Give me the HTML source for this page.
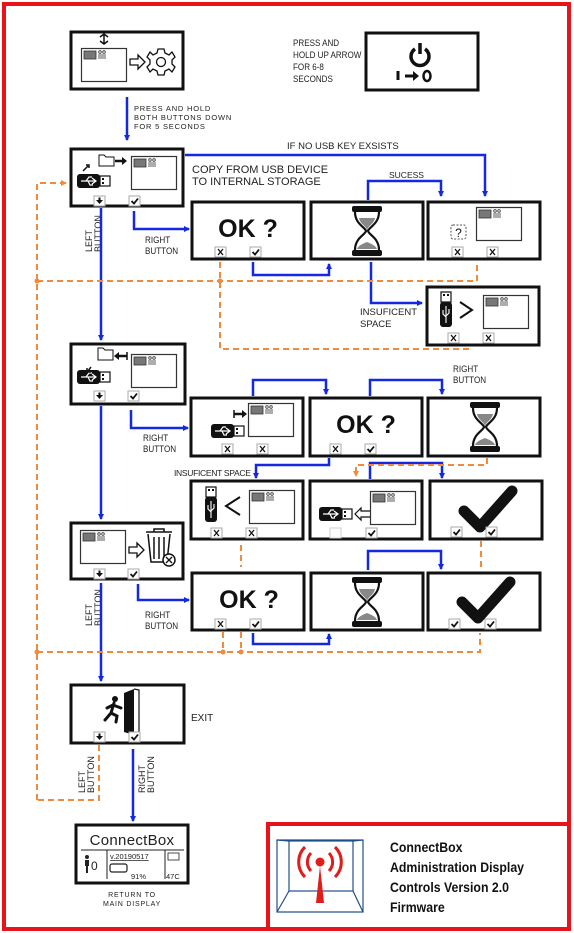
<!DOCTYPE html>
<html><head><meta charset="utf-8"><style>
html,body{margin:0;padding:0;background:#fff;}
svg{display:block;}
text{font-family:"Liberation Sans",sans-serif;}
</style></head><body>
<svg width="574" height="933" viewBox="0 0 574 933" xmlns="http://www.w3.org/2000/svg">
<defs>
<marker id="ab" markerWidth="6" markerHeight="6" refX="5" refY="3" orient="auto" markerUnits="userSpaceOnUse"><path d="M0,0 L6,3 L0,6 z" fill="#1428e0"/></marker>
<marker id="ao" markerWidth="6" markerHeight="6" refX="5" refY="3" orient="auto" markerUnits="userSpaceOnUse"><path d="M0,0 L6,3 L0,6 z" fill="#f08a3c"/></marker>
<symbol id="scr" viewBox="0 0 46 34" width="46" height="34" overflow="visible">
<rect x="0.5" y="0.5" width="45" height="33" fill="#fff" stroke="#333" stroke-width="1.2"/>
<rect x="3" y="3" width="12" height="8" fill="#777" stroke="#333" stroke-width="0.8"/>
<circle cx="19" cy="4" r="1.3" fill="none" stroke="#333" stroke-width="0.8"/><circle cx="23" cy="4" r="1.3" fill="none" stroke="#333" stroke-width="0.8"/>
<path d="M18,6 v5 M20,6 v5 M22,6 v5 M24,6 v5" stroke="#333" stroke-width="0.8"/>
</symbol>
<symbol id="usb" viewBox="0 0 34 14" width="34" height="14" overflow="visible">
<rect x="0" y="0" width="23" height="14" rx="3" fill="#111"/>
<path d="M4,7 H19 M15,4 L19,7 L15,10 M9,7 L12,3 H15 M11,7 L13,11 H16" stroke="#fff" stroke-width="1.2" fill="none"/>
<rect x="23" y="2" width="10" height="10" fill="#fff" stroke="#111" stroke-width="1.2"/>
<rect x="25" y="4" width="2" height="2" fill="#111"/><rect x="25" y="8" width="2" height="2" fill="#111"/>
</symbol>
<symbol id="usbv" viewBox="0 0 12 36" width="12" height="36" overflow="visible">
<rect x="1" y="0" width="10" height="10" fill="#fff" stroke="#111" stroke-width="1.2"/>
<rect x="3" y="2" width="2" height="2" fill="#111"/><rect x="7" y="2" width="2" height="2" fill="#111"/>
<rect x="0" y="10" width="12" height="25" rx="3" fill="#111"/>
<path d="M6,14 V31 M3,18 V22 L6,25 M9,17 V21 L6,24" stroke="#fff" stroke-width="1.1" fill="none"/>
</symbol>
<symbol id="hg" viewBox="0 0 30 50" width="30" height="50" overflow="visible">
<rect x="0" y="0" width="30" height="6" rx="2" fill="#111"/>
<rect x="0" y="44" width="30" height="6" rx="2" fill="#111"/>
<path d="M3,6 C3,18 13,21 14,25 C13,29 3,32 3,44 M27,6 C27,18 17,21 16,25 C17,29 27,32 27,44" stroke="#111" stroke-width="2.2" fill="none"/>
<path d="M7,12 H23 C22,18 16,20 15,24 C14,20 8,18 7,12 z" fill="#888"/>
<path d="M15,36 C10,38 6,40 5,43 H25 C24,40 20,38 15,36 z" fill="#888"/>
</symbol>
<symbol id="bck" viewBox="0 0 60 50" width="60" height="50" overflow="visible">
<path d="M6,26 L22,42 L54,6" stroke="#111" stroke-width="11" fill="none" stroke-linejoin="round" stroke-linecap="round"/>
</symbol>
<symbol id="cx" viewBox="0 0 11 10" width="11" height="10" overflow="visible">
<rect x="0" y="0" width="11" height="10" fill="#fff" stroke="#aaa" stroke-width="1"/>
<path d="M3,2 L8,8 M8,2 L3,8" stroke="#111" stroke-width="1.3"/>
</symbol>
<symbol id="cv" viewBox="0 0 11 10" width="11" height="10" overflow="visible">
<rect x="0" y="0" width="11" height="10" fill="#fff" stroke="#aaa" stroke-width="1"/>
<path d="M2.5,5 L5,7.5 L9,2.5" stroke="#111" stroke-width="1.8" fill="none"/>
</symbol>
<symbol id="cd" viewBox="0 0 11 10" width="11" height="10" overflow="visible">
<rect x="0" y="0" width="11" height="10" fill="#fff" stroke="#aaa" stroke-width="1"/>
<path d="M2,4 H9 L5.5,8 z M4.5,1.5 H6.5 V4.5 H4.5z" fill="#111"/>
</symbol>
<symbol id="ce" viewBox="0 0 11 10" width="11" height="10" overflow="visible">
<rect x="0" y="0" width="11" height="10" fill="#fff" stroke="#ccc" stroke-width="1"/>
</symbol>
</defs>

<!-- outer border -->
<rect x="4" y="4" width="565" height="925" fill="none" stroke="#e8141b" stroke-width="4"/>
<rect x="268" y="824" width="301" height="105" fill="none" stroke="#e8141b" stroke-width="4"/>

<g fill="#fff" stroke="#111" stroke-width="3">
<rect x="71" y="32" width="112" height="57"/>
<rect x="366" y="33" width="112" height="57"/>
<rect x="71" y="149" width="112" height="57"/>
<rect x="192" y="202" width="112" height="57"/>
<rect x="311" y="202" width="112" height="57"/>
<rect x="428" y="202" width="112" height="57"/>
<rect x="427" y="287" width="112" height="58"/>
<rect x="71" y="344" width="114" height="60"/>
<rect x="191" y="398" width="112" height="58"/>
<rect x="310" y="398" width="112" height="58"/>
<rect x="428" y="398" width="112" height="58"/>
<rect x="191" y="481" width="112" height="58"/>
<rect x="310" y="481" width="112" height="58"/>
<rect x="430" y="481" width="112" height="58"/>
<rect x="71" y="523" width="112" height="56"/>
<rect x="192" y="573" width="112" height="57"/>
<rect x="311" y="573" width="112" height="57"/>
<rect x="428" y="573" width="112" height="57"/>
<rect x="71" y="685" width="113" height="58"/>
<rect x="76" y="825" width="112" height="58"/>
</g>

<!-- B1 settings -->
<use href="#scr" x="81" y="48"/>
<path d="M104,35 v8 M100,37 l4,-3 4,3 M100,41 l4,3 4,-3" stroke="#111" stroke-width="1.5" fill="none"/>
<path d="M130,59 h8 v-4 l7,7 -7,7 v-4 h-8 z" fill="#fff" stroke="#111" stroke-width="1.3"/>
<g transform="translate(161,62)" fill="none" stroke="#111" stroke-width="1.3">
<path d="M-3,-13 L3,-13 L4,-9 L8,-7 L11,-10 L14,-5 L11,-2 L11,2 L14,5 L11,10 L8,7 L4,9 L3,13 L-3,13 L-4,9 L-8,7 L-11,10 L-14,5 L-11,2 L-11,-2 L-14,-5 L-11,-10 L-8,-7 L-4,-9 z"/>
<circle r="4.5"/></g>

<!-- power -->
<text font-size="9.5" fill="#222" transform="translate(293,46) scale(0.85,1)"><tspan x="0" y="0">PRESS AND</tspan><tspan x="0" y="12">HOLD UP ARROW</tspan><tspan x="0" y="24">FOR 6-8</tspan><tspan x="0" y="36">SECONDS</tspan></text>
<path d="M415,49 a9,9 0 1,0 10,0" stroke="#111" stroke-width="3.5" fill="none"/>
<path d="M420,43 v11" stroke="#111" stroke-width="3.5"/>
<path d="M398,71 v9 M405,76 h12" stroke="#111" stroke-width="3"/>
<path d="M413,71 l6,5 -6,5 z" fill="#111"/>
<ellipse cx="427" cy="76" rx="3.5" ry="5" fill="none" stroke="#111" stroke-width="2.5"/>

<!-- arrow 1 -->
<path d="M127,97 V140" stroke="#1428e0" stroke-width="2.5" marker-end="url(#ab)"/>
<text font-size="7.5" fill="#222" letter-spacing="0.8"><tspan x="134" y="111">PRESS AND HOLD</tspan><tspan x="134" y="120">BOTH BUTTONS DOWN</tspan><tspan x="134" y="129">FOR 5 SECONDS</tspan></text>

<!-- B3 -->
<use href="#usb" x="77" y="174"/>
<path d="M83,171 l5,-5 M86,165 h3 v3" stroke="#111" stroke-width="1.5" fill="none"/>
<path d="M99,155 h5 l2,2 h8 v9 h-15 z" fill="#fff" stroke="#111" stroke-width="1"/>
<path d="M115,161 h8" stroke="#111" stroke-width="2.5"/><path d="M122,157 l5,4 -5,4z" fill="#111"/>
<use href="#scr" x="131" y="156"/>
<use href="#cd" x="94" y="196"/><use href="#cv" x="129" y="196"/>

<text x="287" y="149" font-size="9.5" fill="#222" transform="scale(1,1)">IF NO USB KEY EXSISTS</text>
<text font-size="11" fill="#222"><tspan x="192" y="173">COPY FROM USB DEVICE</tspan><tspan x="192" y="185">TO INTERNAL STORAGE</tspan></text>
<text x="389" y="178" font-size="8.5" fill="#222">SUCESS</text>

<!-- row1 -->
<text x="248" y="237" font-size="25" font-weight="bold" text-anchor="middle" fill="#111">OK ?</text>
<use href="#cx" x="215" y="247"/><use href="#cv" x="250" y="247"/>
<use href="#hg" x="352" y="206"/>
<use href="#scr" x="476" y="207"/>
<rect x="451" y="225" width="15" height="14" rx="2" fill="#fff" stroke="#555" stroke-width="1" stroke-dasharray="2 1.5"/>
<text x="458.5" y="237" font-size="12" text-anchor="middle" fill="#111">?</text>
<use href="#cx" x="452" y="247"/><use href="#cx" x="487" y="247"/>

<!-- insufficient box -->
<use href="#usbv" x="440" y="292"/>
<path d="M460,302 l12,8 -12,8" stroke="#111" stroke-width="2" fill="none"/>
<use href="#scr" x="483" y="295"/>
<use href="#cx" x="448" y="333"/><use href="#cx" x="483" y="333"/>
<text font-size="9.5" fill="#222"><tspan x="360" y="315">INSUFICENT</tspan><tspan x="360" y="327">SPACE</tspan></text>

<!-- B6 -->
<use href="#usb" x="77" y="370"/>
<path d="M91,367 l-3,4 M87,368 v4 h4" stroke="#111" stroke-width="1.5" fill="none"/>
<path d="M98,348 h5 l2,2 h8 v10 h-15 z" fill="#fff" stroke="#111" stroke-width="1"/>
<path d="M118,356 h9" stroke="#111" stroke-width="2.5"/><path d="M119,352 l-5,4 5,4z" fill="#111"/><path d="M127,352 v8" stroke="#111" stroke-width="1.5"/>
<use href="#scr" x="131" y="354"/>
<use href="#cd" x="94" y="391"/><use href="#cv" x="128" y="391"/>

<!-- row2 -->
<use href="#usb" x="211" y="424"/>
<path d="M234,414 h9" stroke="#111" stroke-width="2.5"/><path d="M242,410 l5,4 -5,4z" fill="#111"/><path d="M234,410 v8" stroke="#111" stroke-width="1.5"/>
<use href="#scr" x="248" y="403"/>
<use href="#cx" x="222" y="444"/><use href="#cx" x="257" y="444"/>
<text x="366" y="433" font-size="25" font-weight="bold" text-anchor="middle" fill="#111">OK ?</text>
<use href="#cx" x="330" y="444"/><use href="#cv" x="365" y="444"/>
<use href="#hg" x="470" y="402"/>

<!-- row3 -->
<use href="#usbv" x="205" y="487"/>
<path d="M240,497 l-14,9 14,9" stroke="#111" stroke-width="2" fill="none"/>
<use href="#scr" x="249" y="490"/>
<use href="#cx" x="211" y="528"/><use href="#cx" x="246" y="528"/>
<use href="#usb" x="319" y="507"/>
<path d="M355,514 l6,-6 v3 h10 v6 h-10 v3 z" fill="#fff" stroke="#111" stroke-width="1.2"/>
<use href="#scr" x="370" y="491"/>
<use href="#ce" x="330" y="528"/><use href="#cv" x="366" y="528"/>
<use href="#bck" x="458" y="485"/>
<use href="#cv" x="451" y="527"/><use href="#cv" x="486" y="527"/>

<!-- trash -->
<use href="#scr" x="80" y="530"/>
<path d="M129,547 h8 v-4 l7,7 -7,7 v-4 h-8 z" fill="#fff" stroke="#111" stroke-width="1.3"/>
<g fill="none" stroke="#111" stroke-width="1.5">
<path d="M146,532 h26 M154,532 v-3 h10 v3 M148,534 l3,28 h16 l3,-28"/>
<path d="M154,537 v22 M159,537 v22 M164,537 v22"/>
</g>
<circle cx="169" cy="560" r="6" fill="#fff" stroke="#111" stroke-width="1.5"/>
<path d="M166,557 l6,6 M172,557 l-6,6" stroke="#111" stroke-width="1.3"/>
<use href="#cd" x="94" y="569"/><use href="#cv" x="128" y="569"/>

<!-- row4 -->
<text x="249" y="608" font-size="25" font-weight="bold" text-anchor="middle" fill="#111">OK ?</text>
<use href="#cx" x="215" y="619"/><use href="#cv" x="250" y="619"/>
<use href="#hg" x="352" y="577"/>
<use href="#bck" x="456" y="576"/>
<use href="#cv" x="449" y="619"/><use href="#cv" x="485" y="619"/>

<!-- exit -->
<path d="M124,693 l10,-4 v46 l-10,-3 z" fill="#111"/>
<path d="M134,689 l5,1 v42 l-5,3" fill="none" stroke="#111" stroke-width="1.2"/>
<circle cx="115" cy="699" r="3" fill="#111"/>
<path d="M114,703 l-3,10 -6,7 M111,713 l6,3 -1,6 M113,705 l8,3 M113,705 l-6,3" stroke="#111" stroke-width="3" fill="none" stroke-linecap="round"/>
<use href="#cd" x="94" y="732"/><use href="#cv" x="129" y="732"/>
<text x="191" y="721" font-size="10" fill="#222">EXIT</text>

<!-- connectbox -->
<text x="132" y="845" font-size="15" text-anchor="middle" fill="#222" letter-spacing="0.3">ConnectBox</text>
<path d="M81,850 H184 M107,850 V879 M165,850 V879" stroke="#222" stroke-width="1"/>
<circle cx="87" cy="857" r="2" fill="#222"/><path d="M85,860 h4 v6 h-1 v7 h-2 v-7 h-1z" fill="#222"/>
<text x="91" y="870" font-size="12" fill="#222">0</text>
<text x="110" y="859" font-size="7.5" fill="#222" text-decoration="underline">v.20190517</text>
<rect x="168" y="853" width="11" height="7" fill="none" stroke="#222" stroke-width="0.8"/>
<rect x="110" y="864" width="17" height="8" rx="2" fill="none" stroke="#222" stroke-width="1.2"/>
<text x="131" y="879" font-size="7.5" fill="#222">91%</text>
<text x="166" y="879" font-size="7.5" fill="#222">47C</text>
<text x="132" y="897" font-size="7" text-anchor="middle" fill="#222" letter-spacing="0.8">RETURN TO</text>
<text x="132" y="906" font-size="7" text-anchor="middle" fill="#222" letter-spacing="0.8">MAIN DISPLAY</text>

<!-- logo -->
<g fill="none" stroke="#1f4f8a" stroke-width="1.2">
<rect x="277" y="840" width="86" height="72"/>
<rect x="289" y="841" width="64" height="50"/>
<path d="M277,840 L289,841 M363,840 L353,841 M289,891 L277,912 M353,891 L363,912"/>
</g>
<circle cx="320" cy="862" r="4.5" fill="#e21b1b"/>
<path d="M320,866 L316,903 H324 Z" fill="#e21b1b"/>
<path d="M311,853 a13,13 0 0,0 0,18 M329,853 a13,13 0 0,1 0,18 M305,847 a21,21 0 0,0 0,30 M335,847 a21,21 0 0,1 0,30" stroke="#e21b1b" stroke-width="3" fill="none"/>
<text font-size="14" font-weight="bold" fill="#111" transform="translate(390,0) scale(0.88,1)"><tspan x="0" y="852">ConnectBox</tspan><tspan x="0" y="872">Administration Display</tspan><tspan x="0" y="892">Controls Version 2.0</tspan><tspan x="0" y="912">Firmware</tspan></text>

<!-- rotated labels -->
<text font-size="9" fill="#222" transform="translate(92,252) rotate(-90)"><tspan x="0" y="0">LEFT</tspan><tspan x="0" y="9">BUTTON</tspan></text>
<text font-size="9" fill="#222" transform="translate(92,626) rotate(-90)"><tspan x="0" y="0">LEFT</tspan><tspan x="0" y="9">BUTTON</tspan></text>
<text font-size="9" fill="#222" transform="translate(85,793) rotate(-90)"><tspan x="0" y="0">LEFT</tspan><tspan x="0" y="9">BUTTON</tspan></text>
<text font-size="9" fill="#222" transform="translate(145,793) rotate(-90)"><tspan x="0" y="0">RIGHT</tspan><tspan x="0" y="9">BUTTON</tspan></text>
<text font-size="9" fill="#222" transform="translate(145,0) scale(0.9,1)"><tspan x="0" y="243">RIGHT</tspan><tspan x="0" y="254">BUTTON</tspan></text>
<text font-size="9" fill="#222" transform="translate(143,0) scale(0.9,1)"><tspan x="0" y="441">RIGHT</tspan><tspan x="0" y="452">BUTTON</tspan></text>
<text font-size="9" fill="#222" transform="translate(145,0) scale(0.9,1)"><tspan x="0" y="618">RIGHT</tspan><tspan x="0" y="629">BUTTON</tspan></text>
<text font-size="9" fill="#222" transform="translate(453,0) scale(0.9,1)"><tspan x="0" y="372">RIGHT</tspan><tspan x="0" y="383">BUTTON</tspan></text>
<text x="174" y="476" font-size="8.5" fill="#222" letter-spacing="-0.3">INSUFICENT SPACE</text>

<!-- blue connectors -->
<g stroke="#1428e0" stroke-width="2.5" fill="none" marker-end="url(#ab)">
<path d="M185,155 H485 V196"/>
<path d="M368,200 V181 H441 V196"/>
<path d="M134,211 V229 H189"/>
<path d="M253,262 V275 H329 V264"/>
<path d="M371,262 V303 H422"/>
<path d="M101,208 V340"/>
<path d="M101,406 V519"/>
<path d="M131,410 V428 H188"/>
<path d="M253,396 V380 H326 V394"/>
<path d="M370,396 V380 H442 V394"/>
<path d="M329,458 V465 H256 V478"/>
<path d="M370,479 V463 H442 V478"/>
<path d="M138,584 V600 H189"/>
<path d="M368,570 V551 H441 V569"/>
<path d="M253,633 V644 H329 V634"/>
<path d="M101,583 V681"/>
<path d="M133,749 V821"/>
</g>

<!-- orange dashed -->
<g stroke="#f08a3c" stroke-width="2" fill="none" stroke-dasharray="6 4">
<path d="M37,800 V183 H66" marker-end="url(#ao)"/>
<path d="M37,281 H477 V262"/>
<path d="M220,262 V349 H473"/>
<path d="M487,458 V465 H356 V476" marker-end="url(#ao)"/>
<path d="M241,545 V567"/>
<path d="M481,541 V567"/>
<path d="M37,652 H480 V633"/>
<path d="M223,632 V652 M241,632 V652"/>
<path d="M99,745 V800 H37"/>
</g>
<g fill="#f08a3c"><circle cx="37" cy="281" r="2.5"/><circle cx="220" cy="281" r="2.5"/><circle cx="37" cy="652" r="2.5"/><circle cx="223" cy="652" r="2.5"/><circle cx="241" cy="652" r="2.5"/></g>
</svg>
</body></html>
